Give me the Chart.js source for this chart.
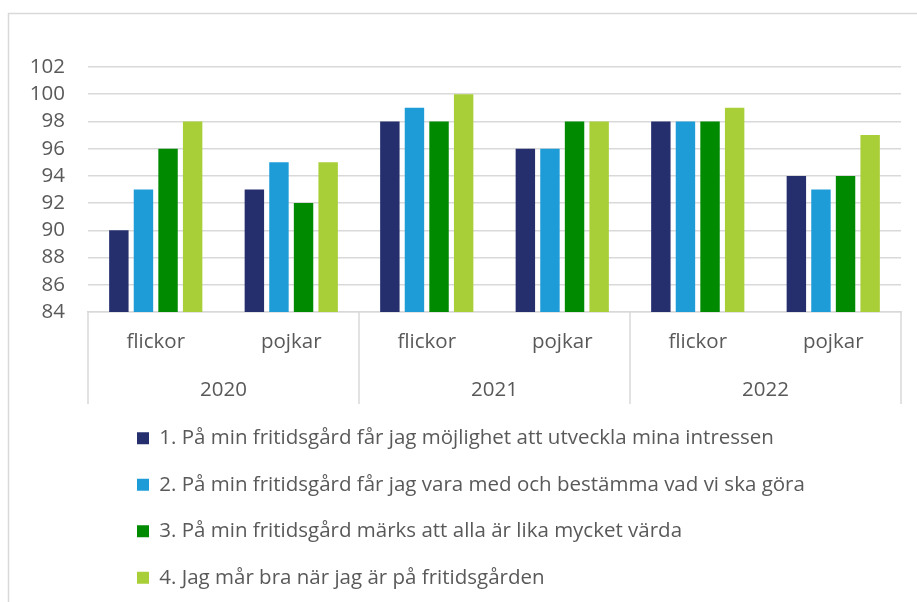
<!DOCTYPE html>
<html>
<head>
<meta charset="utf-8">
<script src="https://cdn.jsdelivr.net/npm/chart.js@4/dist/chart.umd.min.js"></script>
<style>
  html, body { margin: 0; padding: 0; background: #fff; }
  #wrap { width: 917px; height: 602px; }
</style>
</head>
<body>
<div id="wrap"><canvas id="grafico"></canvas></div>
<script>
// kategorier och serier
const kategorier = ['flickor', 'pojkar', 'flickor', 'pojkar', 'flickor', 'pojkar'];
const ar = ['2020', '2021', '2022'];
const serieNamn = [
  '1. På min fritidsgård får jag möjlighet att utveckla mina intressen',
  '2. På min fritidsgård får jag vara med och bestämma vad vi ska göra',
  '3. På min fritidsgård märks att alla är lika mycket värda',
  '4. Jag mår bra när jag är på fritidsgården',
];
const serie1 = [90, 93, 98, 96, 98, 94];
const serie2 = [93, 95, 99, 96, 98, 93];
const serie3 = [96, 92, 98, 98, 98, 94];
const serie4 = [98, 95, 100, 98, 99, 97];
const yTicks = [84, 86, 88, 90, 92, 94, 96, 98, 100, 102];

const FARGER = ['#252f6e', '#1e9cd8', '#008a00', '#a8cf38'];
const TEXT = '#595959';
const LINJE = '#d9d9d9';
const FONT = 'Open Sans';
const FS = 20.5;

// ram runt diagrammet + avdelare mellan år
const ramPlugin = {
  id: 'ram',
  beforeDraw(chart) {
    const c = chart.ctx;
    c.save();
    c.fillStyle = '#fff';
    c.fillRect(0, 0, chart.width, chart.height);
    c.strokeStyle = LINJE;
    c.lineWidth = 1.5;
    c.strokeRect(8.5, 13.5, chart.width, chart.height);
    c.restore();
  },
  afterDraw(chart) {
    const x = chart.scales.x, x2 = chart.scales.x2;
    const halv = (x.getPixelForValue(1) - x.getPixelForValue(0)) / 2;
    const c = chart.ctx;
    c.save();
    c.strokeStyle = LINJE;
    c.lineWidth = 1.5;
    [0, 2, 4, 6].forEach(i => {
      const px = i < 6 ? x.getPixelForValue(i) - halv : x.getPixelForValue(5) + halv;
      c.beginPath();
      c.moveTo(px, chart.chartArea.bottom);
      c.lineTo(px, x2.bottom + 2);
      c.stroke();
    });
    c.restore();
  },
};

const ctx = document.getElementById('grafico').getContext('2d');
new Chart(ctx, {
  type: 'bar',
  data: {
    labels: kategorier,
    datasets: [serie1, serie2, serie3, serie4].map((d, i) => ({
      label: serieNamn[i],
      data: d,
      backgroundColor: FARGER[i],
      borderWidth: 0,
      categoryPercentage: 0.726,
      barPercentage: 0.79,
    })),
  },
  options: {
    responsive: true, maintainAspectRatio: false, animation: false,
    layout: { padding: { top: 67, right: 16, bottom: 4, left: 0 } },
    plugins: {
      legend: {
        position: 'bottom', align: 'start',
        labels: { color: TEXT, font: { family: FONT, size: FS }, boxWidth: 12, boxHeight: 12, padding: 26 },
      },
      tooltip: { enabled: false },
    },
    scales: {
      x: {
        grid: { display: false },
        border: { display: true, color: LINJE, width: 1.5 },
        ticks: { color: TEXT, font: { family: FONT, size: FS }, padding: 10, maxRotation: 0 },
        afterFit: s => { s.height = 50; },
      },
      x2: {
        type: 'category', labels: ar, offset: true, position: 'bottom',
        grid: { display: false },
        border: { display: false },
        ticks: { color: TEXT, font: { family: FONT, size: FS }, padding: 8, maxRotation: 0 },
        afterFit: s => { s.height = 40; },
      },
      y: {
        min: 84, max: 102,
        grid: { color: LINJE, lineWidth: 1.5, drawTicks: false },
        border: { display: false },
        afterBuildTicks: s => { s.ticks = yTicks.map(v => ({ value: v })); },
        ticks: { color: TEXT, font: { family: FONT, size: FS }, padding: 23, autoSkip: false },
        afterFit: s => { s.width = 88; },
      },
    },
  },
  plugins: [ramPlugin, {
    id: 'legendFlytt',
    afterLayout(chart) {
      // flytta förklaringen så att rutorna hamnar under diagrammet
      const lg = chart.legend;
      lg.left += 137 - lg.options.labels.padding;
      lg.right += 137 - lg.options.labels.padding;
    },
  }],
});
</script>
</body>
</html>
